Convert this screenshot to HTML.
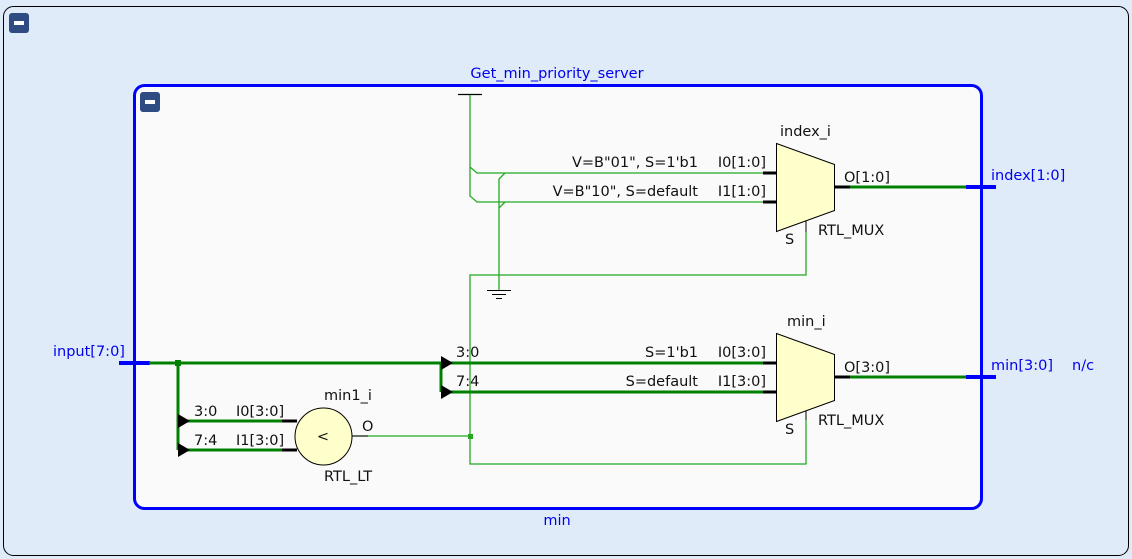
<!DOCTYPE html>
<html><head><meta charset="utf-8"><style>
html,body{margin:0;padding:0;background:#dfebf9;}
svg{display:block;}
text{font-family:"DejaVu Sans","Liberation Sans",sans-serif;font-size:14.5px;fill:#111;}
.b{fill:#0000ee;}
</style></head><body>
<svg width="1132" height="559" viewBox="0 0 1132 559" xmlns="http://www.w3.org/2000/svg">
<rect x="0" y="0" width="1132" height="559" fill="#dfebf9"/>
<rect x="3.5" y="6.5" width="1125" height="549" rx="10" fill="#dfebf9" stroke="#000" stroke-width="1"/>
<rect x="9" y="13" width="20" height="20" rx="3" fill="#2f4c82"/>
<rect x="14" y="21" width="10" height="4" fill="#fff"/>
<rect x="134.5" y="85.5" width="847" height="423" rx="10" fill="#fafafa" stroke="#0000ff" stroke-width="3"/>
<rect x="140" y="92" width="20" height="20" rx="3" fill="#2f4c82"/>
<rect x="145" y="100" width="10" height="4" fill="#fff"/>
<text x="557" y="78" text-anchor="middle" class="b">Get_min_priority_server</text>
<text x="557" y="525" text-anchor="middle" class="b">min</text>

<g stroke="#22aa22" stroke-width="1.3" fill="none">
<line x1="458" y1="94.5" x2="482" y2="94.5" stroke="#000"/>
<polyline points="470,95 470,167 477,173 763,173"/>
<polyline points="470,167 470,196 477,202 763,202"/>
<polyline points="499,290 499,179 505,173"/>
<line x1="499" y1="208" x2="505" y2="202"/>
<polyline points="806,232 806,275 470,275 470,464 806,464 806,420"/>
<line x1="351" y1="436" x2="470" y2="436"/>
</g>
<g stroke="#000" stroke-width="1">
<line x1="487" y1="290.5" x2="511" y2="290.5"/>
<line x1="492" y1="294.5" x2="506" y2="294.5"/>
<line x1="496" y1="298.5" x2="502" y2="298.5"/>
</g>
<rect x="468" y="434" width="5" height="5" fill="#22aa22"/>

<g stroke="#000" stroke-width="3">
<line x1="763" y1="173" x2="777" y2="173"/>
<line x1="763" y1="202" x2="777" y2="202"/>
<line x1="834" y1="187" x2="850" y2="187"/>
<line x1="763" y1="363" x2="777" y2="363"/>
<line x1="763" y1="392" x2="777" y2="392"/>
<line x1="834" y1="377" x2="850" y2="377"/>
</g>
<line x1="806" y1="221" x2="806" y2="232" stroke="#000" stroke-width="1"/>
<line x1="806" y1="411" x2="806" y2="420" stroke="#000" stroke-width="1"/>
<polygon points="776.5,143.5 834.5,164.5 834.5,210.5 776.5,231.5" fill="#ffffcc" stroke="#000" stroke-width="1"/>
<polygon points="776.5,333.5 834.5,354.5 834.5,400.5 776.5,421.5" fill="#ffffcc" stroke="#000" stroke-width="1"/>
<line x1="850" y1="187" x2="968" y2="187" stroke="#008000" stroke-width="3"/>
<line x1="850" y1="377" x2="968" y2="377" stroke="#008000" stroke-width="3"/>
<line x1="966" y1="187" x2="996" y2="187" stroke="#0000ff" stroke-width="4"/>
<line x1="966" y1="377" x2="996" y2="377" stroke="#0000ff" stroke-width="4"/>
<text x="780" y="136">index_i</text>
<text x="698" y="167" text-anchor="end">V=B"01", S=1'b1</text>
<text x="766" y="167" text-anchor="end">I0[1:0]</text>
<text x="698" y="196" text-anchor="end">V=B"10", S=default</text>
<text x="766" y="196" text-anchor="end">I1[1:0]</text>
<text x="844" y="182">O[1:0]</text>
<text x="785" y="244">S</text>
<text x="818" y="235">RTL_MUX</text>
<text x="991" y="180" class="b">index[1:0]</text>

<text x="787" y="326">min_i</text>
<text x="698" y="357" text-anchor="end">S=1'b1</text>
<text x="766" y="357" text-anchor="end">I0[3:0]</text>
<text x="698" y="386" text-anchor="end">S=default</text>
<text x="766" y="386" text-anchor="end">I1[3:0]</text>
<text x="844" y="372">O[3:0]</text>
<text x="785" y="434">S</text>
<text x="818" y="425">RTL_MUX</text>
<text x="991" y="370" class="b">min[3:0]</text>
<text x="1072" y="370" class="b">n/c</text>

<text x="53" y="356" class="b">input[7:0]</text>
<line x1="119" y1="363" x2="150" y2="363" stroke="#0000ff" stroke-width="4"/>
<g stroke="#008000" stroke-width="3" fill="none">
<line x1="149" y1="363" x2="763" y2="363"/>
<polyline points="178,363 178,450"/>
<line x1="441" y1="363" x2="441" y2="392"/>
<line x1="441" y1="392" x2="763" y2="392"/>
<line x1="178" y1="421" x2="284" y2="421"/>
<line x1="178" y1="450" x2="284" y2="450"/>
</g>
<rect x="175" y="360" width="6" height="6" fill="#008000"/>
<g fill="#000">
<polygon points="441,356 453,363 441,370"/>
<polygon points="441,385 453,392 441,399"/>
<polygon points="178,414 190,421 178,428"/>
<polygon points="178,443 190,450 178,457"/>
</g>
<line x1="282" y1="421" x2="297" y2="421" stroke="#000" stroke-width="3"/>
<line x1="282" y1="450" x2="297" y2="450" stroke="#000" stroke-width="3"/>
<text x="456" y="357">3:0</text>
<text x="456" y="386">7:4</text>
<text x="194" y="416">3:0</text>
<text x="236" y="416">I0[3:0]</text>
<text x="194" y="445">7:4</text>
<text x="236" y="445">I1[3:0]</text>
<circle cx="323.5" cy="436.5" r="28.5" fill="#ffffcc" stroke="#000" stroke-width="1"/>
<line x1="352" y1="436" x2="368" y2="436" stroke="#000" stroke-width="1"/>
<text x="323" y="441" text-anchor="middle">&lt;</text>
<text x="324" y="400">min1_i</text>
<text x="362" y="431">O</text>
<text x="324" y="481">RTL_LT</text>
</svg>
</body></html>
